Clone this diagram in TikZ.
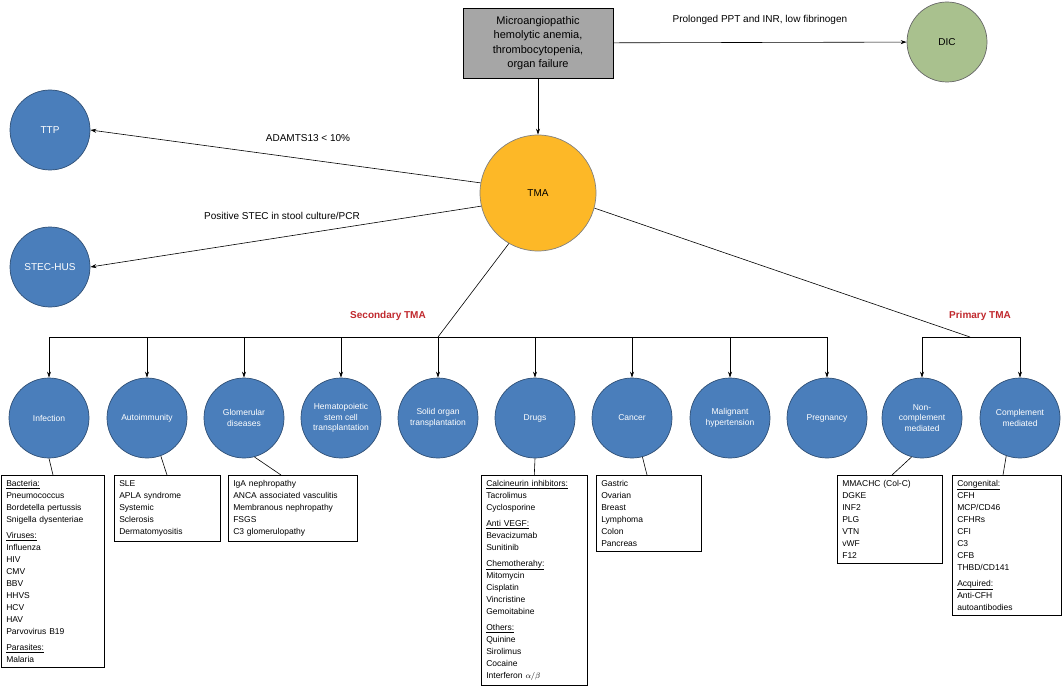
\documentclass[tikz,border=0pt]{standalone}
\usepackage{fontspec}
\setmainfont{Liberation Sans}
\usetikzlibrary{arrows.meta}
\definecolor{cblue}{HTML}{4A7EBB}
\definecolor{cedge}{HTML}{2F4F75}
\definecolor{cgold}{HTML}{FDB827}
\definecolor{cgreen}{HTML}{A9C18E}
\definecolor{cgray}{HTML}{A6A6A6}
\definecolor{cred}{HTML}{C0282D}
\tikzset{
 circ/.style={circle,draw=cedge,line width=0.7pt,fill=cblue,minimum size=80pt,inner sep=1pt,text=white,font=\fontsize{8.5}{10.5}\selectfont,align=center},
 lst/.style={draw,line width=0.6pt,anchor=north west,align=left,inner sep=5pt,font=\fontsize{8.5}{12}\selectfont},
 lbl/.style={font=\fontsize{10}{12}\selectfont},
 red/.style={text=cred,font=\bfseries\fontsize{10}{12}\selectfont},
 arr/.style={-{Stealth[length=6pt,width=4pt]},line width=0.6pt},
 ln/.style={line width=0.6pt}
}
\begin{document}
\begin{tikzpicture}[x=1pt,y=-1pt]
\useasboundingbox (0,0) rectangle (1062,695);
\node[draw,fill=cgray,minimum width=150pt,minimum height=70pt,align=center,font=\fontsize{11}{14.5}\selectfont] (top) at (538,43) {Microangiopathic\\hemolytic anemia,\\thrombocytopenia,\\organ failure};
\node[circ,fill=cgreen,draw=black!60,text=black,font=\fontsize{10}{12}\selectfont] (dic) at (947,42) {DIC};
\node[circ] (ttp) at (50,130) {\fontsize{10}{12}\selectfont TTP};
\node[circ] (stec) at (50,267) {\fontsize{10}{12}\selectfont STEC-HUS};
\node[circ,fill=cgold,draw=black!50,text=black,minimum size=116pt,font=\fontsize{10}{12}\selectfont] (tma) at (538,193) {TMA};
\draw[arr] (top) -- (tma);
\draw[arr] (top) -- (dic) node[lbl,pos=0.5,above=14pt] (l1) {Prolonged PPT and INR, low fibrinogen};
\draw[arr] (tma.170) -- (ttp.east) coordinate[pos=0.45] (m1);
\node[lbl] (l2) at (308,138) {ADAMTS13 < 10\%};
\draw[arr] (tma.193) -- (stec.east);
\node[lbl] (l3) at (282,216) {Positive STEC in stool culture/PCR};
\coordinate (sb) at (438,337);
\coordinate (pb) at (970,337);
\draw[ln] (tma.240) -- (sb);
\draw[ln] (tma.-15) -- (pb);
\node[red] (st) at (388,316) {Secondary TMA};
\node[red] (pt) at (980,316) {Primary TMA};
\foreach \n/\x/\t in {c1/49/Infection,c2/147/Autoimmunity,c3/244/{Glomerular\\diseases},c4/341/{Hematopoietic\\stem cell\\transplantation},c5/438/{Solid organ\\transplantation},c6/535/Drugs,c7/632/Cancer,c8/730/{Malignant\\hypertension},c9/827/Pregnancy,c10/922/{Non-\\complement\\mediated},c11/1020/{Complement\\mediated}}
 \node[circ] (\n) at (\x,418) {\t};
\draw[ln] (c1.north|-sb) -- (c9.north|-sb);
\draw[ln] (c10.north|-pb) -- (c11.north|-pb);
\foreach \n in {c1,c2,c3,c4,c5,c6,c7,c8,c9,c10,c11}
 \draw[arr] (\n.north|-sb) -- (\n.north);
\node[lst,text width=93pt] (b1) at (1,475) {\underline{Bacteria:}\\Pneumococcus\\Bordetella pertussis\\Snigella dysenteriae\\[4pt]\underline{Viruses:}\\Influenza\\HIV\\CMV\\BBV\\HHVS\\HCV\\HAV\\Parvovirus B19\\[4pt]\underline{Parasites:}\\Malaria};
\node[lst,text width=96pt] (b2) at (114,475) {SLE\\APLA syndrome\\Systemic\\Sclerosis\\Dermatomyositis};
\node[lst,text width=119pt] (b3) at (228,475) {IgA nephropathy\\ANCA associated vasculitis\\Membranous nephropathy\\FSGS\\C3 glomerulopathy};
\node[lst,text width=96pt] (b6) at (481,475) {\underline{Calcineurin inhibitors:}\\Tacrolimus\\Cyclosporine\\[4pt]\underline{Anti VEGF:}\\Bevacizumab\\Sunitinib\\[4pt]\underline{Chemotherahy:}\\Mitomycin\\Cisplatin\\Vincristine\\Gemoitabine\\[4pt]\underline{Others:}\\Quinine\\Sirolimus\\Cocaine\\Interferon $\alpha/\beta$};
\node[lst,text width=95pt] (b7) at (596,475) {Gastric\\Ovarian\\Breast\\Lymphoma\\Colon\\Pancreas};
\node[lst,text width=95pt] (b10) at (837,475) {MMACHC (Col-C)\\DGKE\\INF2\\PLG\\VTN\\vWF\\F12};
\node[lst,text width=99pt] (b11) at (952,475) {\underline{Congenital:}\\CFH\\MCP/CD46\\CFHRs\\CFI\\C3\\CFB\\THBD/CD141\\[4pt]\underline{Acquired:}\\Anti-CFH\\autoantibodies};
\draw[ln] (c1.south) -- (53,475);
\draw[ln] (c2.-70) -- (167,475);
\draw[ln] (c3.-75) -- (281,475);
\draw[ln] (c6.south) -- (b6.north);
\draw[ln] (c7.-75) -- (647,475);
\draw[ln] (c10.-105) -- (892,475);
\draw[ln] (c11.-110) -- (1003,475);
\end{tikzpicture}
\end{document}
